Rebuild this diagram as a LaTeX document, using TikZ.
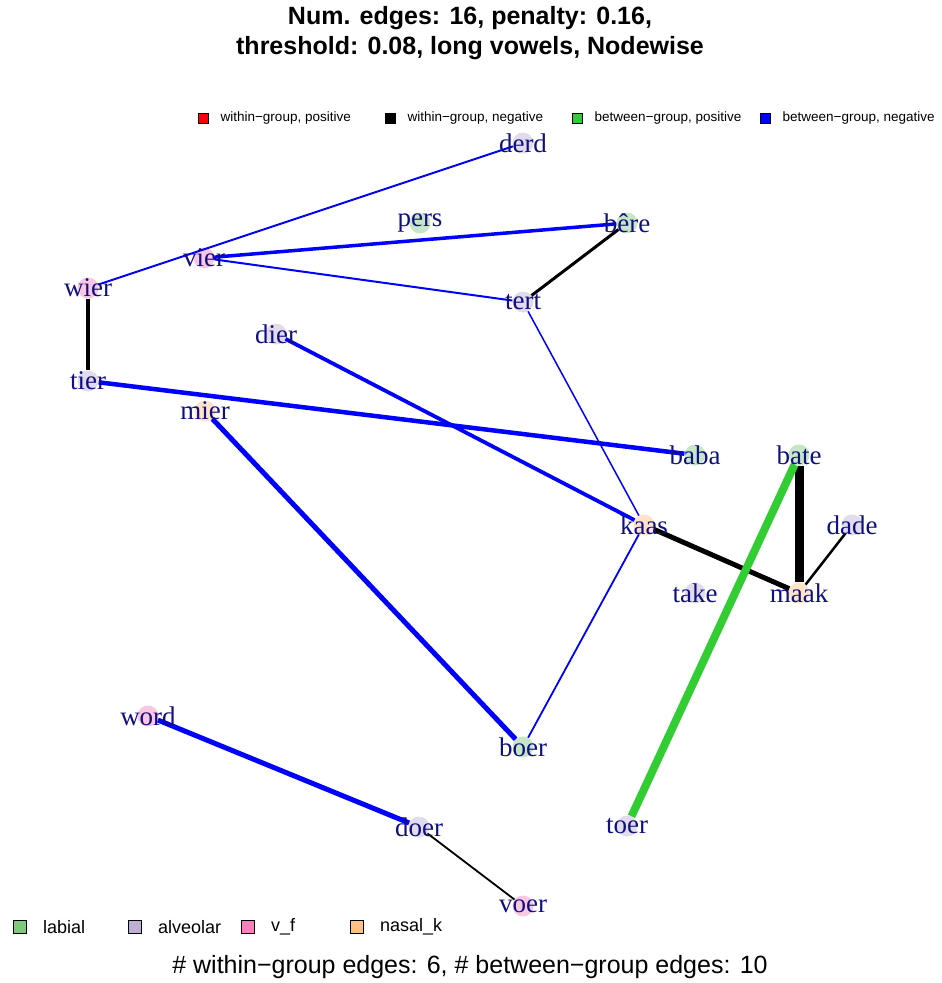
\documentclass[tikz,border=0pt]{standalone}
\usepackage{fontspec}
\setmainfont{Liberation Serif}
\setsansfont{Liberation Sans}
\usetikzlibrary{positioning}

\definecolor{labial}{HTML}{7FC97F}
\definecolor{alveolar}{HTML}{BEAED4}
\definecolor{vf}{HTML}{F781BF}
\definecolor{nasalk}{HTML}{FDC086}
\definecolor{wordblue}{HTML}{10107F}
\definecolor{posgreen}{HTML}{32CD32}

\begin{document}
\begin{tikzpicture}[x=1pt, y=-1pt,
        vert/.style={circle, inner sep=0pt, minimum size=21pt},
        vlab/.style={vert, fill=labial!45},
        valv/.style={vert, fill=alveolar!45},
        vvf/.style={vert, fill=vf!45},
        vnas/.style={vert, fill=nasalk!45},
        wlab/.style={font=\fontsize{27}{30}\selectfont, text=wordblue, inner sep=0pt},
        wneg/.style={black},
        bpos/.style={posgreen},
        bneg/.style={blue},
        keybox/.style={draw=black, minimum size=10pt, inner sep=0pt, line width=0.8pt},
        keytext/.style={font=\sffamily\fontsize{13.5}{15}\selectfont, inner sep=0pt, right=12pt},
        grpbox/.style={draw=black, minimum size=13pt, inner sep=0pt, line width=1pt},
        grptext/.style={font=\sffamily\fontsize{18}{20}\selectfont, inner sep=0pt, right=16pt}
    ]

    \useasboundingbox (0,0) rectangle (942,983);

    \node[font=\sffamily\bfseries\fontsize{25}{30}\selectfont, align=center] (title) at (470,33)
        {Num. edges: 16, penalty: 0.16,\\ threshold: 0.08, long vowels, Nodewise};

    \node[keybox, fill=red] (kwp) at (203,118) {};
    \node[keytext] at (kwp.east) {within−group, positive};
    \node[keybox, fill=black] (kwn) at (390,118) {};
    \node[keytext] at (kwn.east) {within−group, negative};
    \node[keybox, fill=posgreen] (kbp) at (577,118) {};
    \node[keytext] at (kbp.east) {between−group, positive};
    \node[keybox, fill=blue] (kbn) at (765,118) {};
    \node[keytext] at (kbn.east) {between−group, negative};

    \node[vlab] (pers) at (420,223) {};
    \node[vlab] (bere) at (627,223) {};
    \node[vlab] (baba) at (695,455) {};
    \node[vlab] (bate) at (799,455) {};
    \node[vlab] (boer) at (523,747) {};
    \node[valv] (derd) at (523,143) {};
    \node[valv] (tert) at (523,302) {};
    \node[valv] (tier) at (88,381) {};
    \node[valv] (dier) at (276,334) {};
    \node[valv] (dade) at (852,525) {};
    \node[valv] (take) at (695,593) {};
    \node[valv] (doer) at (419,827) {};
    \node[valv] (toer) at (627,826) {};
    \node[vvf] (vier) at (204,258) {};
    \node[vvf] (wier) at (88,288) {};
    \node[vvf] (word) at (148,716) {};
    \node[vvf] (voer) at (523,906) {};
    \node[vnas] (mier) at (205,411) {};
    \node[vnas] (kaas) at (644,525) {};
    \node[vnas] (maak) at (799,593) {};

    \draw[bneg, line width=2pt] (wier) -- (derd);
    \draw[bneg, line width=3.5pt] (vier) -- (bere);
    \draw[bneg, line width=2pt] (vier) -- (tert);
    \draw[wneg, line width=3pt] (tert) -- (bere);
    \draw[wneg, line width=4pt] (wier) -- (tier);
    \draw[bneg, line width=4.5pt] (tier) -- (baba);
    \draw[bneg, line width=3.8pt] (dier) -- (kaas);
    \draw[bneg, line width=5pt] (mier) -- (boer);
    \draw[bneg, line width=1.5pt] (tert) -- (kaas);
    \draw[bneg, line width=1.8pt] (kaas) -- (boer);
    \draw[wneg, line width=5pt] (kaas) -- (maak);
    \draw[wneg, line width=9pt] (bate) -- (maak);
    \draw[wneg, line width=2.5pt] (maak) -- (dade);
    \draw[bpos, line width=8pt] (bate) -- (toer);
    \draw[bneg, line width=5pt] (word) -- (doer);
    \draw[wneg, line width=1.8pt] (doer) -- (voer);

    \node[wlab] (persL) at (pers) {pers};
    \node[wlab] (bereL) at (bere) {bêre};
    \node[wlab] (babaL) at (baba) {baba};
    \node[wlab] (bateL) at (bate) {bate};
    \node[wlab] (boerL) at (boer) {boer};
    \node[wlab] (derdL) at (derd) {derd};
    \node[wlab] (tertL) at (tert) {tert};
    \node[wlab] (tierL) at (tier) {tier};
    \node[wlab] (dierL) at (dier) {dier};
    \node[wlab] (dadeL) at (dade) {dade};
    \node[wlab] (takeL) at (take) {take};
    \node[wlab] (doerL) at (doer) {doer};
    \node[wlab] (toerL) at (toer) {toer};
    \node[wlab] (vierL) at (vier) {vier};
    \node[wlab] (wierL) at (wier) {wier};
    \node[wlab] (wordL) at (word) {word};
    \node[wlab] (voerL) at (voer) {voer};
    \node[wlab] (mierL) at (mier) {mier};
    \node[wlab] (kaasL) at (kaas) {kaas};
    \node[wlab] (maakL) at (maak) {maak};

    \node[grpbox, fill=labial] (glab) at (20,927) {};
    \node[grptext] at (glab.east) {labial};
    \node[grpbox, fill=alveolar] (galv) at (135,927) {};
    \node[grptext] at (galv.east) {alveolar};
    \node[grpbox, fill=vf] (gvf) at (248,927) {};
    \node[grptext] at (gvf.east) {v\_f};
    \node[grpbox, fill=nasalk] (gnas) at (357,927) {};
    \node[grptext] at (gnas.east) {nasal\_k};

    \node[font=\sffamily\fontsize{25}{28}\selectfont] (caption) at (470,967)
        {\# within−group edges: 6, \# between−group edges: 10};

    \end{tikzpicture}
\end{document}
